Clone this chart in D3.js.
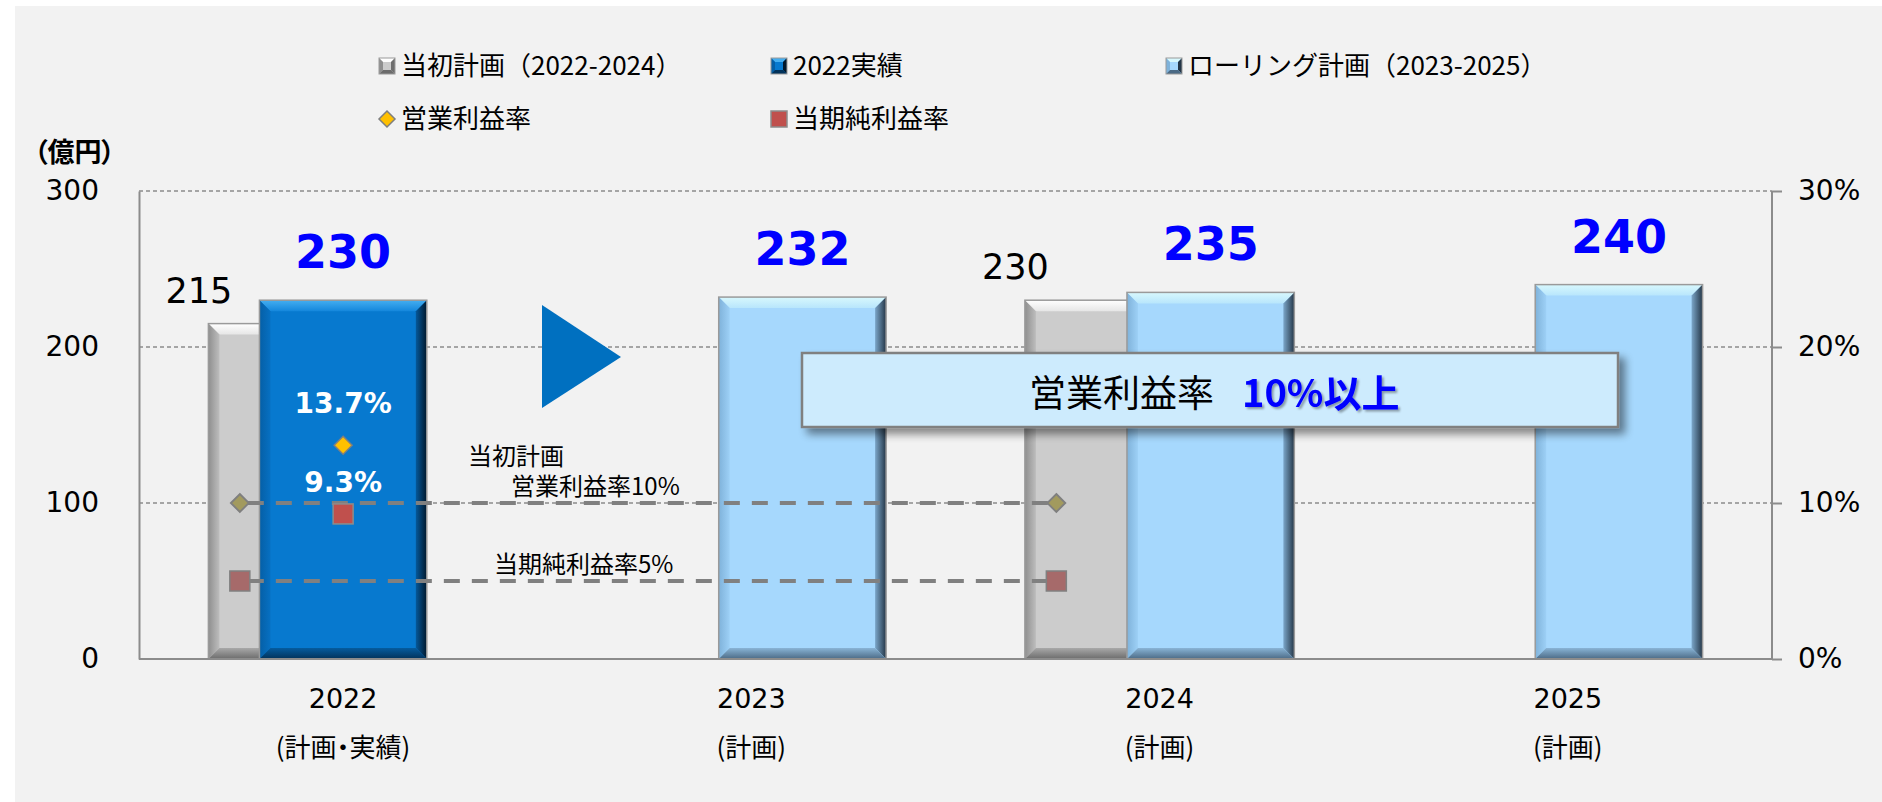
<!DOCTYPE html>
<html><head><meta charset="utf-8">
<script src="https://cdn.jsdelivr.net/npm/d3@7"></script>
<style>
html,body{margin:0;padding:0;background:#fff;}
svg{display:block;}
</style></head>
<body>
<svg id="chart" width="1882" height="802"></svg>
<script>
// ---- data ----
const categories = ["2022", "2023", "2024", "2025"];
const categorySubLabels = ["(計画・実績)", "(計画)", "(計画)", "(計画)"];
const planValues = [215, null, 230, null];          // 当初計画（2022-2024）
const actualValues = [230, null, null, null];       // 2022実績
const rollingValues = [null, 232, 235, 240];        // ローリング計画（2023-2025）
const opMarginActual = [13.7, null, null, null];    // 営業利益率 (実績)
const netMarginActual = [9.3, null, null, null];    // 当期純利益率 (実績)
const opMarginPlan = [10, null, 10, null];          // 当初計画 営業利益率
const netMarginPlan = [5, null, 5, null];           // 当初計画 当期純利益率
const yTicks = [0, 100, 200, 300];
const y2Ticks = [0, 10, 20, 30];
const legendLabels = ["当初計画（2022-2024）", "2022実績", "ローリング計画（2023-2025）", "営業利益率", "当期純利益率"];

// ---- layout ----
const svg = d3.select("#chart");
const W = 1882, H = 802;
const pL = 139, pR = 1772, pT = 191, pB = 659;

svg.append("rect").attr("x", 15).attr("y", 6).attr("width", W - 15).attr("height", H - 6).attr("fill", "#f2f2f2");

const x = d3.scaleBand().domain(categories).range([pL, pR]).paddingInner(0).paddingOuter(0);
const bw = x.bandwidth();
const cx = c => x(c) + bw / 2;
const barW = bw * 0.41;
const serOff = bw * 0.125;
const planMarkOff = -bw * 0.253;
const y = d3.scaleLinear().domain([0, 300]).range([pB, pT]);
const y2 = d3.scaleLinear().domain([0, 30]).range([pB, pT]);

const defs = svg.append("defs");
function hgrad(id, stops) {
  const g = defs.append("linearGradient").attr("id", id).attr("x1", 0).attr("x2", 1).attr("y1", 0).attr("y2", 0);
  stops.forEach(s => g.append("stop").attr("offset", s[0]).attr("stop-color", s[1]));
}
function vgrad(id, stops) {
  const g = defs.append("linearGradient").attr("id", id).attr("x1", 0).attr("x2", 0).attr("y1", 0).attr("y2", 1);
  stops.forEach(s => g.append("stop").attr("offset", s[0]).attr("stop-color", s[1]));
}
const themes = {
  grey:  {body: "#cccccc", top: ["#ffffff", "#e6e6e6"], left: ["#8f8f8f", "#bdbdbd"], right: ["#b5b5b5", "#6e6e6e"], bottom: ["#a8a8a8", "#6c6c6c"]},
  dark:  {body: "#0779cf", top: ["#45aef0", "#1487dc"], left: ["#055fa6", "#0770c2"], right: ["#05589a", "#01182c"], bottom: ["#055c9f", "#02325a"]},
  light: {body: "#a6d8fd", top: ["#d8f8fd", "#b8e6fc"], left: ["#7fb2da", "#9dd0f6"], right: ["#7ba6c9", "#243647"], bottom: ["#89b4d6", "#4b6a85"]}
};
Object.entries(themes).forEach(([k, t]) => {
  vgrad(k + "Top", [[0, t.top[0]], [1, t.top[1]]]);
  hgrad(k + "Left", [[0, t.left[0]], [1, t.left[1]]]);
  hgrad(k + "Right", [[0, t.right[0]], [1, t.right[1]]]);
  vgrad(k + "Bottom", [[0, t.bottom[0]], [1, t.bottom[1]]]);
});

const flt = defs.append("filter").attr("id", "shadow").attr("x", "-10%").attr("y", "-20%").attr("width", "130%").attr("height", "160%");
flt.append("feGaussianBlur").attr("in", "SourceAlpha").attr("stdDeviation", 4);
flt.append("feOffset").attr("dx", 6).attr("dy", 6).attr("result", "ob");
flt.append("feComponentTransfer").append("feFuncA").attr("type", "linear").attr("slope", 0.45);
const fm = flt.append("feMerge"); fm.append("feMergeNode"); fm.append("feMergeNode").attr("in", "SourceGraphic");

const tflt = defs.append("filter").attr("id", "tshadow");
tflt.append("feDropShadow").attr("dx", 2).attr("dy", 2).attr("stdDeviation", 1).attr("flood-color", "#000").attr("flood-opacity", 0.35);

// ---- grid ----
const grid = svg.append("g");
grid.selectAll("line").data(yTicks.filter(d => d > 0)).join("line")
  .attr("x1", pL).attr("x2", pR).attr("y1", d => y(d)).attr("y2", d => y(d))
  .attr("stroke", "#8c8c8c").attr("stroke-width", 1.4).attr("stroke-dasharray", "4,3");

// ---- axes ----
const yAxis = svg.append("g").attr("transform", `translate(${pL},0)`)
  .call(d3.axisLeft(y).tickValues(yTicks).tickSize(0).tickPadding(40));
yAxis.select(".domain").attr("stroke", "#8c8c8c").attr("stroke-width", 2);
yAxis.selectAll("text").attr("font-family", "'DejaVu Sans', sans-serif").attr("font-size", 28).attr("fill", "#000");

const y2Axis = svg.append("g").attr("transform", `translate(${pR},0)`)
  .call(d3.axisRight(y2).tickValues(y2Ticks).tickSize(10).tickPadding(16).tickFormat(d => d + "%"));
y2Axis.select(".domain").attr("stroke", "#8c8c8c").attr("stroke-width", 2).attr("d", `M0,${pT}V${pB}`);
y2Axis.selectAll(".tick line").attr("stroke", "#8c8c8c").attr("stroke-width", 2);
y2Axis.selectAll("text").attr("font-family", "'DejaVu Sans', sans-serif").attr("font-size", 28).attr("fill", "#000");

// x labels
const xl = svg.append("g");
xl.selectAll("text.yr").data(categories).join("text").attr("class", "yr")
  .attr("x", d => cx(d)).attr("y", 708).attr("text-anchor", "middle")
  .attr("font-family", "'DejaVu Sans', sans-serif").attr("font-size", 27).attr("fill", "#000").text(d => d);
xl.selectAll("text.sub").data(categories).join("text").attr("class", "sub")
  .attr("x", d => cx(d)).attr("y", 757).attr("text-anchor", "middle")
  .attr("font-family", "'Noto Sans CJK JP', sans-serif").attr("font-size", 26).attr("fill", "#000")
  .style("font-feature-settings", "'palt'")
  .text((d, i) => categorySubLabels[i]);

// ---- bars ----
function bevelBar(g, x0, w, v, theme) {
  const x1 = x0 + w, y0 = y(v), y1 = y(0), b = 11;
  const t = themes[theme];
  const bg = g.append("g");
  bg.append("rect").attr("x", x0).attr("y", y0).attr("width", w).attr("height", y1 - y0).attr("fill", t.body);
  bg.append("polygon").attr("points", [[x0, y0], [x1, y0], [x1 - b, y0 + b], [x0 + b, y0 + b]].join(" ")).attr("fill", `url(#${theme}Top)`);
  bg.append("polygon").attr("points", [[x0, y0], [x0 + b, y0 + b], [x0 + b, y1 - b], [x0, y1]].join(" ")).attr("fill", `url(#${theme}Left)`);
  bg.append("polygon").attr("points", [[x1, y0], [x1, y1], [x1 - b, y1 - b], [x1 - b, y0 + b]].join(" ")).attr("fill", `url(#${theme}Right)`);
  bg.append("polygon").attr("points", [[x0, y1], [x1, y1], [x1 - b, y1 - b], [x0 + b, y1 - b]].join(" ")).attr("fill", `url(#${theme}Bottom)`);
  bg.append("rect").attr("x", x0).attr("y", y0).attr("width", w).attr("height", y1 - y0)
    .attr("fill", "none").attr("stroke", "#9a9a9a").attr("stroke-width", 1.5);
}
const bars = svg.append("g");
categories.forEach((c, i) => {
  if (planValues[i] != null) bevelBar(bars, cx(c) - serOff - barW / 2, barW, planValues[i], "grey");
});
categories.forEach((c, i) => {
  if (actualValues[i] != null) bevelBar(bars, cx(c) - barW / 2, barW, actualValues[i], "dark");
});
categories.forEach((c, i) => {
  if (rollingValues[i] != null) bevelBar(bars, cx(c) + serOff - barW / 2, barW, rollingValues[i], "light");
});

// bottom axis line on top of bars
svg.append("line").attr("x1", pL).attr("x2", pR).attr("y1", pB).attr("y2", pB)
  .attr("stroke", "#8c8c8c").attr("stroke-width", 2);

// ---- plan lines ----
const line = d3.line().x(d => d[0]).y(d => d[1]);
function planSeries(vals) {
  return categories.map((c, i) => vals[i] == null ? null : [cx(c) + planMarkOff, y2(vals[i])]).filter(d => d);
}
const opPts = planSeries(opMarginPlan), netPts = planSeries(netMarginPlan);
[opPts, netPts].forEach(p => {
  svg.append("path").attr("d", line(p)).attr("fill", "none").attr("stroke", "#808080")
    .attr("stroke-width", 4).attr("stroke-dasharray", "16,12").attr("stroke-dashoffset", -8);
});
svg.selectAll("path.opPlan").data(opPts).join("path").attr("class", "opPlan")
  .attr("transform", d => `translate(${d[0]},${d[1]})`)
  .attr("d", "M0,-9L9,0L0,9L-9,0Z").attr("fill", "#a29a5e").attr("stroke", "#7f7f7f").attr("stroke-width", 1.8);
svg.selectAll("rect.netPlan").data(netPts).join("rect").attr("class", "netPlan")
  .attr("x", d => d[0] - 10).attr("y", d => d[1] - 10).attr("width", 20).attr("height", 20)
  .attr("fill", "#a66a6a").attr("stroke", "#808080").attr("stroke-width", 1.5);

// actual markers
categories.forEach((c, i) => {
  if (opMarginActual[i] != null) {
    svg.append("path").attr("transform", `translate(${cx(c)},${y2(opMarginActual[i])})`)
      .attr("d", "M0,-9L9,0L0,9L-9,0Z").attr("fill", "#ffc000").attr("stroke", "#7f7f7f").attr("stroke-width", 1.5);
    svg.append("text").attr("x", cx(c)).attr("y", y2(opMarginActual[i]) - 32).attr("text-anchor", "middle")
      .attr("font-family", "'DejaVu Sans', sans-serif").attr("font-weight", "bold").attr("font-size", 28)
      .attr("fill", "#fff").text(opMarginActual[i].toFixed(1) + "%");
  }
  if (netMarginActual[i] != null) {
    svg.append("rect").attr("x", cx(c) - 10).attr("y", y2(netMarginActual[i]) - 10).attr("width", 20).attr("height", 20)
      .attr("fill", "#c0504d").attr("stroke", "#8c8c8c").attr("stroke-width", 1.5);
    svg.append("text").attr("x", cx(c)).attr("y", y2(netMarginActual[i]) - 22).attr("text-anchor", "middle")
      .attr("font-family", "'DejaVu Sans', sans-serif").attr("font-weight", "bold").attr("font-size", 28)
      .attr("fill", "#fff").text(netMarginActual[i].toFixed(1) + "%");
  }
});

// ---- value labels ----
categories.forEach((c, i) => {
  if (planValues[i] != null) {
    svg.append("text").attr("x", cx(c) - serOff - barW / 2 + 24).attr("y", y(planValues[i]) - 21)
      .attr("text-anchor", "end").attr("font-family", "'DejaVu Sans', sans-serif").attr("font-size", 35)
      .attr("fill", "#000").text(planValues[i]);
  }
  if (actualValues[i] != null) {
    svg.append("text").attr("x", cx(c)).attr("y", y(actualValues[i]) - 32).attr("text-anchor", "middle")
      .attr("font-family", "'DejaVu Sans', sans-serif").attr("font-weight", "bold").attr("font-size", 46)
      .attr("fill", "#0000ff").text(actualValues[i]);
  }
  if (rollingValues[i] != null) {
    svg.append("text").attr("x", cx(c) + serOff).attr("y", y(rollingValues[i]) - 32).attr("text-anchor", "middle")
      .attr("font-family", "'DejaVu Sans', sans-serif").attr("font-weight", "bold").attr("font-size", 46)
      .attr("fill", "#0000ff").text(rollingValues[i]);
  }
});

// ---- annotations ----
const jp = "'Noto Sans CJK JP', sans-serif";
svg.append("text").attr("x", 468).attr("y", 465).attr("font-family", jp).attr("font-size", 24).attr("fill", "#000").text("当初計画");
svg.append("text").attr("x", 511).attr("y", 495).attr("font-family", jp).attr("font-size", 24).attr("fill", "#000").text("営業利益率10%");
svg.append("text").attr("x", 494).attr("y", 573).attr("font-family", jp).attr("font-size", 24).attr("fill", "#000").text("当期純利益率5%");

// arrow
svg.append("polygon").attr("points", "542,305 621,357 542,408").attr("fill", "#0070c0");

// callout box
svg.append("rect").attr("x", 802).attr("y", 353).attr("width", 816).attr("height", 74)
  .attr("fill", "#cdebfd").attr("stroke", "#808080").attr("stroke-width", 2.5).attr("filter", "url(#shadow)");
svg.append("text").attr("x", 1029).attr("y", 407).attr("font-family", jp).attr("font-size", 37).attr("fill", "#000").text("営業利益率");
svg.append("text").attr("x", 1242).attr("y", 407).attr("font-family", jp).attr("font-weight", "bold").attr("font-size", 38)
  .attr("fill", "#0000ff").attr("filter", "url(#tshadow)").text("10%以上");

// unit label
svg.append("text").attr("x", 34).attr("y", 162).attr("font-family", jp).attr("font-weight", "bold").attr("font-size", 27)
  .attr("fill", "#000").style("font-feature-settings", "'palt'").text("（億円）");

// ---- legend ----
const leg = svg.append("g");
const legendPos = [[379, 66], [771, 66], [1166, 66], [379, 119], [771, 119]];
const legendTheme = ["grey", "dark", "light"];
legendLabels.forEach((lab, i) => {
  const [lx, ly] = legendPos[i];
  if (i < 3) {
    const t = themes[legendTheme[i]];
    const s = 16, b = 4, x0 = lx, y0 = ly - s / 2, x1 = lx + s, y1 = ly + s / 2;
    leg.append("rect").attr("x", x0).attr("y", y0).attr("width", s).attr("height", s).attr("fill", t.body);
    leg.append("polygon").attr("points", [[x0, y0], [x1, y0], [x1 - b, y0 + b], [x0 + b, y0 + b]].join(" ")).attr("fill", t.top[0]);
    leg.append("polygon").attr("points", [[x0, y0], [x0 + b, y0 + b], [x0 + b, y1 - b], [x0, y1]].join(" ")).attr("fill", t.left[0]);
    leg.append("polygon").attr("points", [[x1, y0], [x1, y1], [x1 - b, y1 - b], [x1 - b, y0 + b]].join(" ")).attr("fill", t.right[1]);
    leg.append("polygon").attr("points", [[x0, y1], [x1, y1], [x1 - b, y1 - b], [x0 + b, y1 - b]].join(" ")).attr("fill", t.bottom[1]);
    leg.append("rect").attr("x", x0).attr("y", y0).attr("width", s).attr("height", s).attr("fill", "none").attr("stroke", "#9a9a9a").attr("stroke-width", 1);
  } else if (i === 3) {
    leg.append("path").attr("transform", `translate(${lx + 8},${ly})`).attr("d", "M0,-8L8,0L0,8L-8,0Z")
      .attr("fill", "#ffc000").attr("stroke", "#7f7f7f").attr("stroke-width", 1.5);
  } else {
    leg.append("rect").attr("x", lx).attr("y", ly - 8).attr("width", 16).attr("height", 16)
      .attr("fill", "#c0504d").attr("stroke", "#8c8c8c").attr("stroke-width", 1.5);
  }
  leg.append("text").attr("x", lx + 22).attr("y", ly).attr("dy", "0.36em").attr("font-family", jp)
    .attr("font-size", 26).attr("fill", "#000").text(lab);
});
</script>
</body></html>
